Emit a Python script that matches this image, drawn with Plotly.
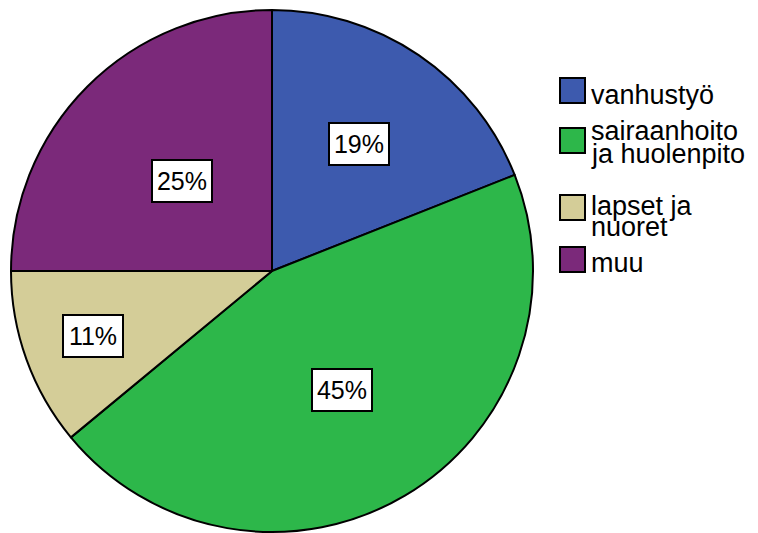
import math
import plotly.graph_objects as go

# ---- data ----
categories = ["vanhustyö", "sairaanhoito ja huolenpito", "lapset ja nuoret", "muu"]
percentages = [19, 45, 11, 25]
pct_labels = ["19%", "45%", "11%", "25%"]
legend_lines = [["vanhustyö"], ["sairaanhoito", "ja huolenpito"], ["lapset ja", "nuoret"], ["muu"]]

# ---- style ----
colors = ["#3D5AAE", "#2DB74A", "#D4CD98", "#7B297A"]
W, H = 758, 533
OFF = 8                             # page body margin of the browser
cx, cy, r = 272 - OFF, 271 - OFF, 261   # pie centre / radius in figure px
label_rfrac = [0.59, 0.53, 0.73, 0.49]
FONT = "Arial, Liberation Sans, sans-serif"

fig = go.Figure()
fig.add_trace(go.Pie(
    labels=categories,
    values=percentages,
    sort=False,
    direction="clockwise",
    rotation=0,
    textinfo="none",
    hoverinfo="label+percent",
    marker=dict(colors=colors, line=dict(color="black", width=2)),
    domain=dict(x=[(cx - r) / W, (cx + r) / W], y=[(H - cy - r) / H, (H - cy + r) / H]),
    showlegend=False,
))

annotations = []
shapes = []

# percentage labels at the slice mid-angles
total = sum(percentages)
cum = 0
for v, lab, rf in zip(percentages, pct_labels, label_rfrac):
    mid = (cum + v / 2) / total * 2 * math.pi
    cum += v
    px = cx + rf * r * math.sin(mid)
    py = cy - rf * r * math.cos(mid)
    annotations.append(dict(
        x=px / W, y=1 - py / H, xref="paper", yref="paper",
        text=lab, showarrow=False, xanchor="center", yanchor="middle",
        font=dict(family=FONT, size=25, color="black"),
        bgcolor="white", bordercolor="black", borderwidth=2, borderpad=1,
        width=56, height=38,
    ))

# custom legend
sw_x0, sw_x1 = 560 - OFF, 585 - OFF
sw_tops = [78, 128, 195, 247]
sw_size = 25
line_baselines = [[104], [140, 163], [215, 236], [272]]
text_x = 589 - OFF
LFS = 27
for i, (lines, col) in enumerate(zip(legend_lines, colors)):
    t = sw_tops[i] - OFF
    shapes.append(dict(type="rect", xref="paper", yref="paper",
                       x0=sw_x0 / W, x1=sw_x1 / W,
                       y0=1 - (t + sw_size) / H, y1=1 - t / H,
                       fillcolor=col, line=dict(color="black", width=2)))
    for ln, b in zip(lines, line_baselines[i]):
        ymid = b - OFF - 0.33 * LFS
        annotations.append(dict(
            x=text_x / W, y=1 - ymid / H, xref="paper", yref="paper",
            text=ln, showarrow=False, xanchor="left", yanchor="middle",
            font=dict(family=FONT, size=LFS, color="black"),
        ))

fig.update_layout(
    width=W, height=H,
    margin=dict(l=0, r=0, t=0, b=0),
    paper_bgcolor="white", plot_bgcolor="white",
    annotations=annotations, shapes=shapes,
)

fig.write_html("out.html")
